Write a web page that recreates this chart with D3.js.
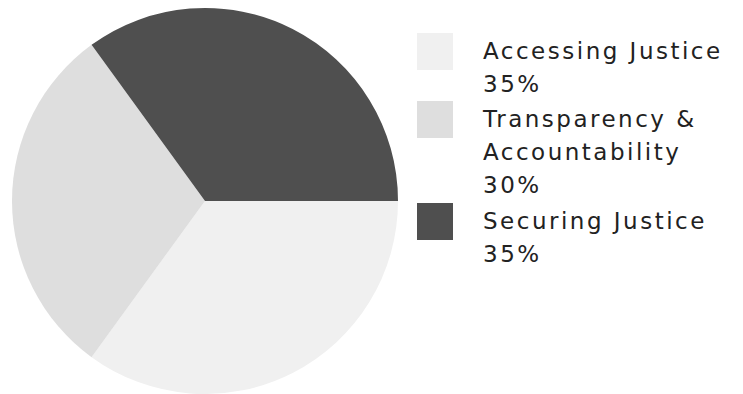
<!DOCTYPE html>
<html><head><meta charset="utf-8">
<script src="https://d3js.org/d3.v7.min.js"></script>
<style>body{margin:0;background:#fff}</style>
</head><body>
<svg id="c" width="743" height="394"></svg>
<script>
const categories = ["Accessing Justice", "Transparency & Accountability", "Securing Justice"];
const values = [35, 30, 35];
const labelLines = [["Accessing Justice", "35%"], ["Transparency &", "Accountability", "30%"], ["Securing Justice", "35%"]];
const colors = ["#f0f0f0", "#dedede", "#4f4f4f"];

const svg = d3.select("#c");
const cx = 205, cy = 201, r = 193;
const start = Math.PI / 2;
const pie = d3.pie().sort(null).value(d => d)
  .startAngle(start).endAngle(start + 2 * Math.PI);
const arc = d3.arc().innerRadius(0).outerRadius(r);
const g = svg.append("g").attr("transform", `translate(${cx},${cy})`);
g.selectAll("path").data(pie(values)).join("path")
  .attr("d", arc).attr("fill", (d, i) => colors[i]);

const lg = svg.append("g").attr("transform", "translate(417,0)");
const groupTops = [59, 127, 229];
const lh = 33;
labelLines.forEach((lines, i) => {
  const base = groupTops[i];
  lg.append("rect").attr("x", 0).attr("y", base - 26).attr("width", 36).attr("height", 37)
    .attr("fill", colors[i]);
  lines.forEach((t, j) => {
    lg.append("text").attr("x", 66).attr("y", base + j * lh)
      .attr("font-family", "'DejaVu Sans', sans-serif").attr("font-size", 23)
      .attr("letter-spacing", 2.5)
      .attr("fill", "#222").text(t);
  });
});
</script>
</body></html>
